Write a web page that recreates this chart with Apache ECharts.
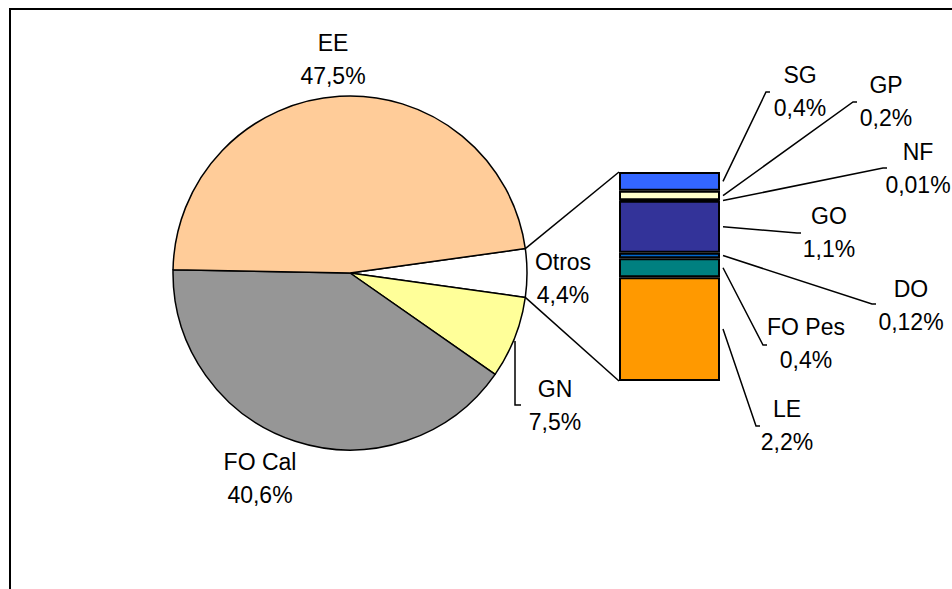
<!DOCTYPE html>
<html>
<head>
<meta charset="utf-8">
<script src="https://cdn.jsdelivr.net/npm/echarts@6/dist/echarts.min.js"></script>
<style>
  html, body { margin: 0; padding: 0; background: #fff; }
  #chart { width: 952px; height: 589px; }
</style>
</head>
<body>
<div id="chart"></div>
<script>
// Shares of the energy mix (%), clockwise from the "Otros" slice
const pieNames  = ['Otros', 'GN', 'FO Cal', 'EE'];
const pieValues = [4.4, 7.5, 40.6, 47.5];
const pieColors = ['#FFFFFF', '#FFFF99', '#969696', '#FFCC99'];

// Breakdown of "Otros", listed top to bottom in the column
const subNames  = ['SG', 'GP', 'NF', 'GO', 'DO', 'FO Pes', 'LE'];
const subValues = [0.4, 0.2, 0.01, 1.1, 0.12, 0.4, 2.2];
const subColors = ['#3366FF', '#FFFFCC', '#000000', '#333399', '#0066CC', '#008080', '#FF9900'];

// Layout (pixels)
const PIE = { cx: 350, cy: 273, r: 177 };
const BAR = { left: 619, top: 172, width: 101, height: 209 };
const pieLabelPos = { 'EE': [333, 59], 'FO Cal': [260, 478], 'GN': [555, 405], 'Otros': [563, 278] };
const subLabelPos = {
  'SG': [800, 91], 'GP': [886, 101], 'NF': [918, 168], 'GO': [829, 232],
  'DO': [911, 305], 'FO Pes': [806, 343], 'LE': [787, 425]
};
const subElbow = {
  'SG': [766, 92], 'GP': [853, 102], 'NF': [883, 168], 'GO': [797, 233],
  'DO': [872, 304], 'FO Pes': [763, 345], 'LE': [756, 426]
};
const gnLeaderX = 515;

const FONT = 'Liberation Sans, Arial, sans-serif';
const fmt = v => String(v).replace('.', ',') + '%';
const textStyle = { fontFamily: FONT, fontSize: 23, color: '#000', lineHeight: 33 };

const chart = echarts.init(document.getElementById('chart'), null, { renderer: 'svg' });

const otrosShare = pieValues[0] / pieValues.reduce((a, b) => a + b, 0);
const startAngle = otrosShare * 360 / 2;
const subTotal = subValues.reduce((a, b) => a + b, 0);

// Stacked column: bottom segment first
const barSeries = subNames.slice().reverse().map((name, k) => {
  const i = subNames.length - 1 - k;
  return {
    type: 'bar',
    name: name,
    stack: 'otros',
    barWidth: '100%',
    data: [subValues[i]],
    itemStyle: { color: subColors[i], borderColor: '#000', borderWidth: 2 },
    label: Object.assign({
      show: true, position: 'right',
      formatter: p => p.seriesName + '\n' + fmt(p.value)
    }, textStyle),
    labelLayout: () => ({ x: subLabelPos[name][0], y: subLabelPos[name][1], align: 'center', verticalAlign: 'middle' }),
    emphasis: { disabled: true },
    animation: false
  };
});

chart.setOption({
  animation: false,
  grid: { left: BAR.left, top: BAR.top, width: BAR.width, height: BAR.height },
  xAxis: { type: 'category', data: ['Otros'], show: false },
  yAxis: { type: 'value', min: 0, max: subTotal, show: false },
  series: [
    {
      type: 'pie',
      center: [PIE.cx, PIE.cy],
      radius: PIE.r,
      startAngle: startAngle,
      clockwise: true,
      avoidLabelOverlap: false,
      data: pieNames.map((n, i) => ({ name: n, value: pieValues[i], itemStyle: { color: pieColors[i] } })),
      itemStyle: { borderColor: '#000', borderWidth: 1.5 },
      label: Object.assign({
        show: true, position: 'outside',
        formatter: p => p.name + '\n' + fmt(p.value)
      }, textStyle),
      labelLine: { show: false },
      labelLayout: p => {
        const pos = pieLabelPos[pieNames[p.dataIndex]];
        return { x: pos[0], y: pos[1], align: 'center', verticalAlign: 'middle' };
      },
      emphasis: { disabled: true }
    }
  ].concat(barSeries)
});

// Connector lines, leader lines and frame
const line = (pts) => ({ type: 'polyline', shape: { points: pts }, style: { stroke: '#000', lineWidth: 1.5, fill: null }, z: 10 });
const graphics = [];

graphics.push({ type: 'rect', shape: { x: 10, y: 9, width: 2000, height: 2000 }, style: { stroke: '#000', lineWidth: 2, fill: null }, z: 20 });

// From the "Otros" slice to the column
const a = startAngle * Math.PI / 180;
const topPt = [PIE.cx + PIE.r * Math.cos(a), PIE.cy - PIE.r * Math.sin(a)];
const botPt = [PIE.cx + PIE.r * Math.cos(a), PIE.cy + PIE.r * Math.sin(a)];
const yTop = chart.convertToPixel({ yAxisIndex: 0 }, subTotal);
const yBot = chart.convertToPixel({ yAxisIndex: 0 }, 0);
graphics.push(line([topPt, [BAR.left, yTop]]));
graphics.push(line([botPt, [BAR.left, yBot]]));

// Leader lines from each column segment to its label
let cum = 0;
for (let k = subNames.length - 1; k >= 0; k--) {
  const name = subNames[k];
  const mid = chart.convertToPixel({ yAxisIndex: 0 }, cum + subValues[k] / 2);
  cum += subValues[k];
  const e = subElbow[name];
  graphics.push(line([[BAR.left + BAR.width + 3, mid], e, [e[0] + 4, e[1]]]));
}

// Leader for GN
const gnY0 = PIE.cy + Math.sqrt(PIE.r * PIE.r - Math.pow(gnLeaderX - PIE.cx, 2)) + 4;
const gnY1 = pieLabelPos['GN'][1];
graphics.push(line([[gnLeaderX, gnY0], [gnLeaderX, gnY1], [gnLeaderX + 6, gnY1]]));

chart.setOption({ graphic: graphics });
</script>
</body>
</html>
